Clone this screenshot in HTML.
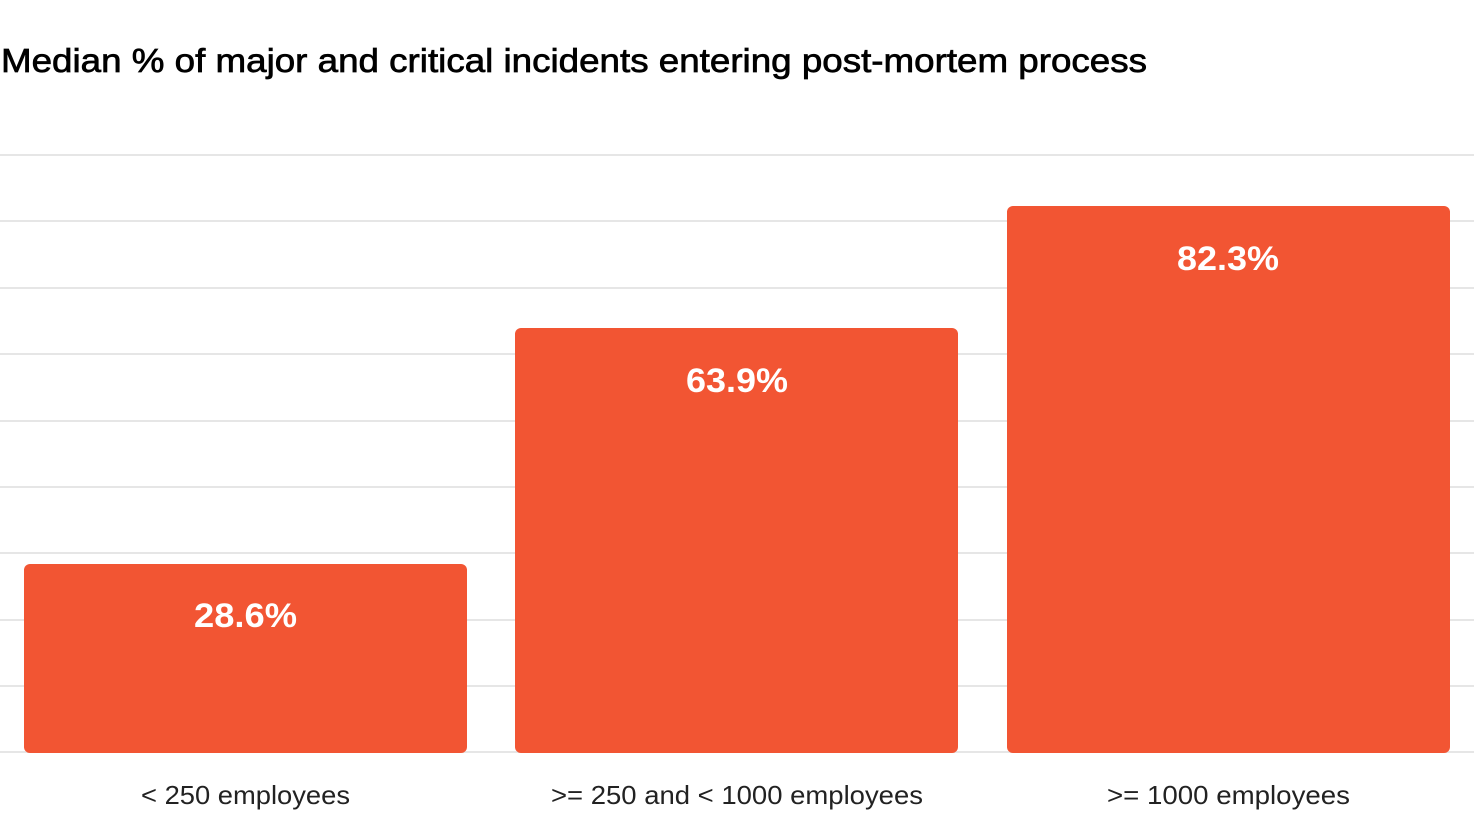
<!DOCTYPE html>
<html><head><meta charset="utf-8"><style>
body{margin:0;background:#fff;width:1474px;height:814px;overflow:hidden;font-family:"Liberation Sans",sans-serif}
</style></head><body>
<svg width="1474" height="814" xmlns="http://www.w3.org/2000/svg" font-family="Liberation Sans, sans-serif">
<text x="1" y="72" font-size="33" fill="#000" stroke="#000" stroke-width="0.7" textLength="1146" lengthAdjust="spacingAndGlyphs">Median % of major and critical incidents entering post-mortem process</text>
<g stroke="#e6e6e6" stroke-width="2">
<line x1="0" x2="1474" y1="155" y2="155"/>
<line x1="0" x2="1474" y1="221" y2="221"/>
<line x1="0" x2="1474" y1="288" y2="288"/>
<line x1="0" x2="1474" y1="354" y2="354"/>
<line x1="0" x2="1474" y1="421" y2="421"/>
<line x1="0" x2="1474" y1="487" y2="487"/>
<line x1="0" x2="1474" y1="553" y2="553"/>
<line x1="0" x2="1474" y1="620" y2="620"/>
<line x1="0" x2="1474" y1="686" y2="686"/>
<line x1="0" x2="1474" y1="752" y2="752"/>
</g>
<g fill="#F25533">
<rect x="24" y="564" width="443" height="189" rx="6"/>
<rect x="515" y="328" width="443" height="425" rx="6"/>
<rect x="1007" y="206" width="443" height="547" rx="6"/>
</g>
<g fill="#fff" font-size="34" font-weight="bold">
<text x="194" y="627" textLength="103" lengthAdjust="spacingAndGlyphs">28.6%</text>
<text x="686" y="392" textLength="102" lengthAdjust="spacingAndGlyphs">63.9%</text>
<text x="1177" y="270" textLength="102" lengthAdjust="spacingAndGlyphs">82.3%</text>
</g>
<g fill="#222" font-size="26">
<text x="141" y="804" textLength="209" lengthAdjust="spacingAndGlyphs">&lt; 250 employees</text>
<text x="551" y="804" textLength="372" lengthAdjust="spacingAndGlyphs">&gt;= 250 and &lt; 1000 employees</text>
<text x="1107" y="804" textLength="243" lengthAdjust="spacingAndGlyphs">&gt;= 1000 employees</text>
</g>
</svg>
</body></html>
